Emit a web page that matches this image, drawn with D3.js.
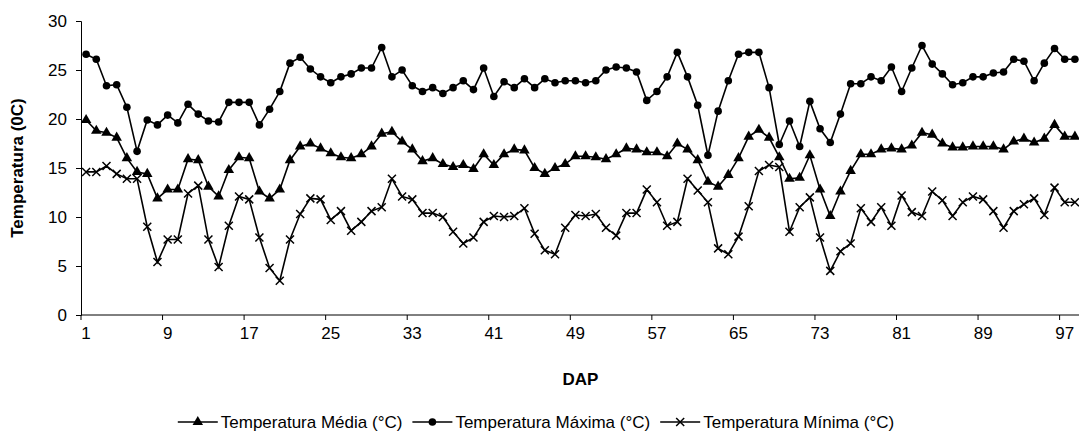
<!DOCTYPE html>
<html>
<head>
<meta charset="utf-8">
<script src="https://cdn.jsdelivr.net/npm/d3@7"></script>
<style>
  body { margin: 0; background: #fff; }
  svg { display: block; font-family: "Liberation Sans", Arial, sans-serif; }
</style>
</head>
<body>
<svg id="chart" width="1079" height="447"></svg>
<script>
// days after planting (DAP)
const days = d3.range(1, 99)

const tempMedia = [
  19.9, 18.8, 18.6, 18.1, 16.0, 14.6, 14.4, 11.9, 12.8, 12.8,
  15.9, 15.8, 13.1, 12.1, 14.8, 16.1, 16.0, 12.6, 11.9, 12.8,
  15.8, 17.2, 17.5, 17.0, 16.5, 16.1, 16.0, 16.4, 17.2, 18.5,
  18.7, 17.7, 16.9, 15.7, 16.0, 15.4, 15.1, 15.3, 14.9, 16.4,
  15.3, 16.4, 16.9, 16.8, 15.0, 14.4, 15.0, 15.4, 16.2, 16.2,
  16.1, 15.9, 16.4, 17.0, 16.9, 16.6, 16.6, 16.2, 17.5, 16.9,
  15.8, 13.6, 13.1, 14.3, 16.0, 18.2, 18.9, 18.1, 16.1, 13.9,
  14.0, 16.3, 12.8, 10.1, 12.6, 14.7, 16.4, 16.4, 16.9, 17.0,
  16.9, 17.3, 18.6, 18.4, 17.5, 17.1, 17.1, 17.2, 17.2, 17.2,
  16.9, 17.7, 18.0, 17.6, 18.0, 19.4, 18.2, 18.2
]

const tempMaxima = [
  26.6, 26.1, 23.4, 23.5, 21.2, 16.7, 19.9, 19.4, 20.4, 19.6,
  21.5, 20.5, 19.8, 19.7, 21.7, 21.7, 21.7, 19.4, 21.0, 22.8,
  25.7, 26.3, 25.1, 24.3, 23.7, 24.3, 24.6, 25.2, 25.2, 27.3,
  24.3, 25.0, 23.4, 22.8, 23.2, 22.6, 23.2, 23.9, 23.0, 25.2,
  22.3, 23.8, 23.2, 24.1, 23.2, 24.1, 23.7, 23.9, 23.9, 23.7,
  23.9, 25.0, 25.3, 25.2, 24.8, 21.9, 22.8, 24.3, 26.8, 24.3,
  21.4, 16.3, 20.8, 23.9, 26.6, 26.8, 26.8, 23.2, 17.4, 19.8,
  17.2, 21.8, 19.0, 17.6, 20.5, 23.6, 23.6, 24.3, 23.9, 25.3,
  22.8, 25.2, 27.5, 25.6, 24.6, 23.5, 23.7, 24.3, 24.3, 24.7,
  24.8, 26.1, 25.9, 23.9, 25.7, 27.2, 26.1, 26.1
]

const tempMinima = [
  14.6, 14.6, 15.2, 14.4, 13.9, 13.9, 9.0, 5.4, 7.7, 7.7,
  12.4, 13.2, 7.7, 4.9, 9.1, 12.1, 11.8, 7.9, 4.8, 3.5,
  7.7, 10.3, 11.9, 11.8, 9.7, 10.6, 8.6, 9.5, 10.6, 11.0,
  13.9, 12.1, 11.8, 10.4, 10.4, 10.0, 8.5, 7.3, 7.9, 9.5,
  10.1, 10.0, 10.1, 10.9, 8.3, 6.6, 6.2, 8.9, 10.2, 10.1,
  10.3, 8.9, 8.1, 10.4, 10.4, 12.8, 11.5, 9.1, 9.5, 13.9,
  12.7, 11.5, 6.8, 6.2, 8.0, 11.1, 14.7, 15.3, 15.1, 8.5,
  11.0, 12.0, 7.9, 4.5, 6.5, 7.3, 10.9, 9.5, 11.0, 9.1,
  12.2, 10.5, 10.1, 12.6, 11.7, 10.1, 11.5, 12.1, 11.8, 10.6,
  8.9, 10.6, 11.3, 11.9, 10.2, 13.0, 11.5, 11.5
]

const yTicks = [0, 5, 10, 15, 20, 25, 30]
const xTickDays = [1, 9, 17, 25, 33, 41, 49, 57, 65, 73, 81, 89, 97]

const series = [
  { name: 'Temperatura Média (°C)', values: tempMedia, marker: 'triangle' },
  { name: 'Temperatura Máxima (°C)', values: tempMaxima, marker: 'circle' },
  { name: 'Temperatura Mínima (°C)', values: tempMinima, marker: 'cross' }
]

const plotLeft = 81
const plotRight = 1080
const plotTop = 21
const plotBottom = 315
const fontSize = 17

const svg = d3.select('#chart')

// band per day, points sit in the middle of each band
const xScale = d3.scaleBand()
  .domain(days)
  .range([plotLeft, plotRight])
  .paddingInner(0)
  .paddingOuter(0)
const bw = xScale.bandwidth()
const cx = d => xScale(d) + bw / 2

const yScale = d3.scaleLinear()
  .domain([0, 30])
  .range([plotBottom, plotTop])

// y axis
const yAxis = svg.append('g')
  .attr('transform', `translate(${plotLeft},0)`)
  .call(d3.axisLeft(yScale).tickValues(yTicks).tickSize(5).tickPadding(9))
yAxis.select('.domain').attr('stroke', '#000').attr('stroke-width', 1)
yAxis.selectAll('.tick line').attr('stroke', '#000')
yAxis.selectAll('.tick text')
  .attr('font-size', fontSize)
  .attr('fill', '#000')
  .attr('font-family', '"Liberation Sans", Arial, sans-serif')

// x axis: tick marks on band edges, labels centred in the band
const xAxis = svg.append('g')
  .attr('transform', `translate(0,${plotBottom})`)
  .call(d3.axisBottom(xScale).tickValues(xTickDays).tickSize(0).tickPadding(12))
xAxis.select('.domain').remove()
xAxis.selectAll('.tick text')
  .attr('font-size', fontSize)
  .attr('fill', '#000')
  .attr('font-family', '"Liberation Sans", Arial, sans-serif')
xAxis.append('line')
  .attr('x1', plotLeft).attr('x2', plotRight)
  .attr('stroke', '#000')
xAxis.selectAll('.edge')
  .data(xTickDays)
  .join('line')
  .attr('class', 'edge')
  .attr('x1', d => xScale(d))
  .attr('x2', d => xScale(d))
  .attr('y1', 0).attr('y2', 5)
  .attr('stroke', '#000')

// axis titles
svg.append('text')
  .attr('transform', `translate(23, ${(plotTop + plotBottom) / 2}) rotate(-90)`)
  .attr('text-anchor', 'middle')
  .attr('font-size', fontSize)
  .attr('font-weight', 'bold')
  .text('Temperatura (0C)')

svg.append('text')
  .attr('x', (plotLeft + plotRight) / 2)
  .attr('y', 385)
  .attr('text-anchor', 'middle')
  .attr('font-size', fontSize)
  .attr('font-weight', 'bold')
  .text('DAP')

// marker drawing
const drawMarker = (sel, type) => {
  if (type === 'triangle') {
    sel.append('path')
      .attr('d', d3.symbol().type(d3.symbolTriangle).size(48))
      .attr('fill', '#000')
  } else if (type === 'circle') {
    sel.append('circle')
      .attr('r', 3.8)
      .attr('fill', '#000')
  } else {
    sel.append('path')
      .attr('d', 'M-4,-4L4,4M-4,4L4,-4')
      .attr('stroke', '#000')
      .attr('stroke-width', 1.5)
      .attr('fill', 'none')
  }
}

const line = d3.line()
  .x((v, i) => cx(days[i]))
  .y(v => yScale(v))

series.forEach(s => {
  svg.append('path')
    .datum(s.values)
    .attr('d', line)
    .attr('fill', 'none')
    .attr('stroke', '#000')
    .attr('stroke-width', 1.6)

  svg.append('g')
    .selectAll('g')
    .data(s.values)
    .join('g')
    .attr('transform', (v, i) => `translate(${cx(days[i])},${yScale(v)})`)
    .each(function () { drawMarker(d3.select(this), s.marker) })
})

// legend
const legend = svg.append('g')
let lx = 0
series.forEach(s => {
  const item = legend.append('g').attr('transform', `translate(${lx},0)`)
  item.append('line')
    .attr('x1', 0).attr('x2', 40)
    .attr('stroke', '#000').attr('stroke-width', 1.6)
  drawMarker(item.append('g').attr('transform', 'translate(20,0)'), s.marker)
  const t = item.append('text')
    .attr('x', 43)
    .attr('y', 6)
    .attr('font-size', fontSize)
    .text(s.name)
  lx += 43 + t.node().getComputedTextLength() + 10
})
const legendWidth = lx - 10
legend.attr('transform', `translate(${536 - legendWidth / 2}, 422)`)
</script>
</body>
</html>
